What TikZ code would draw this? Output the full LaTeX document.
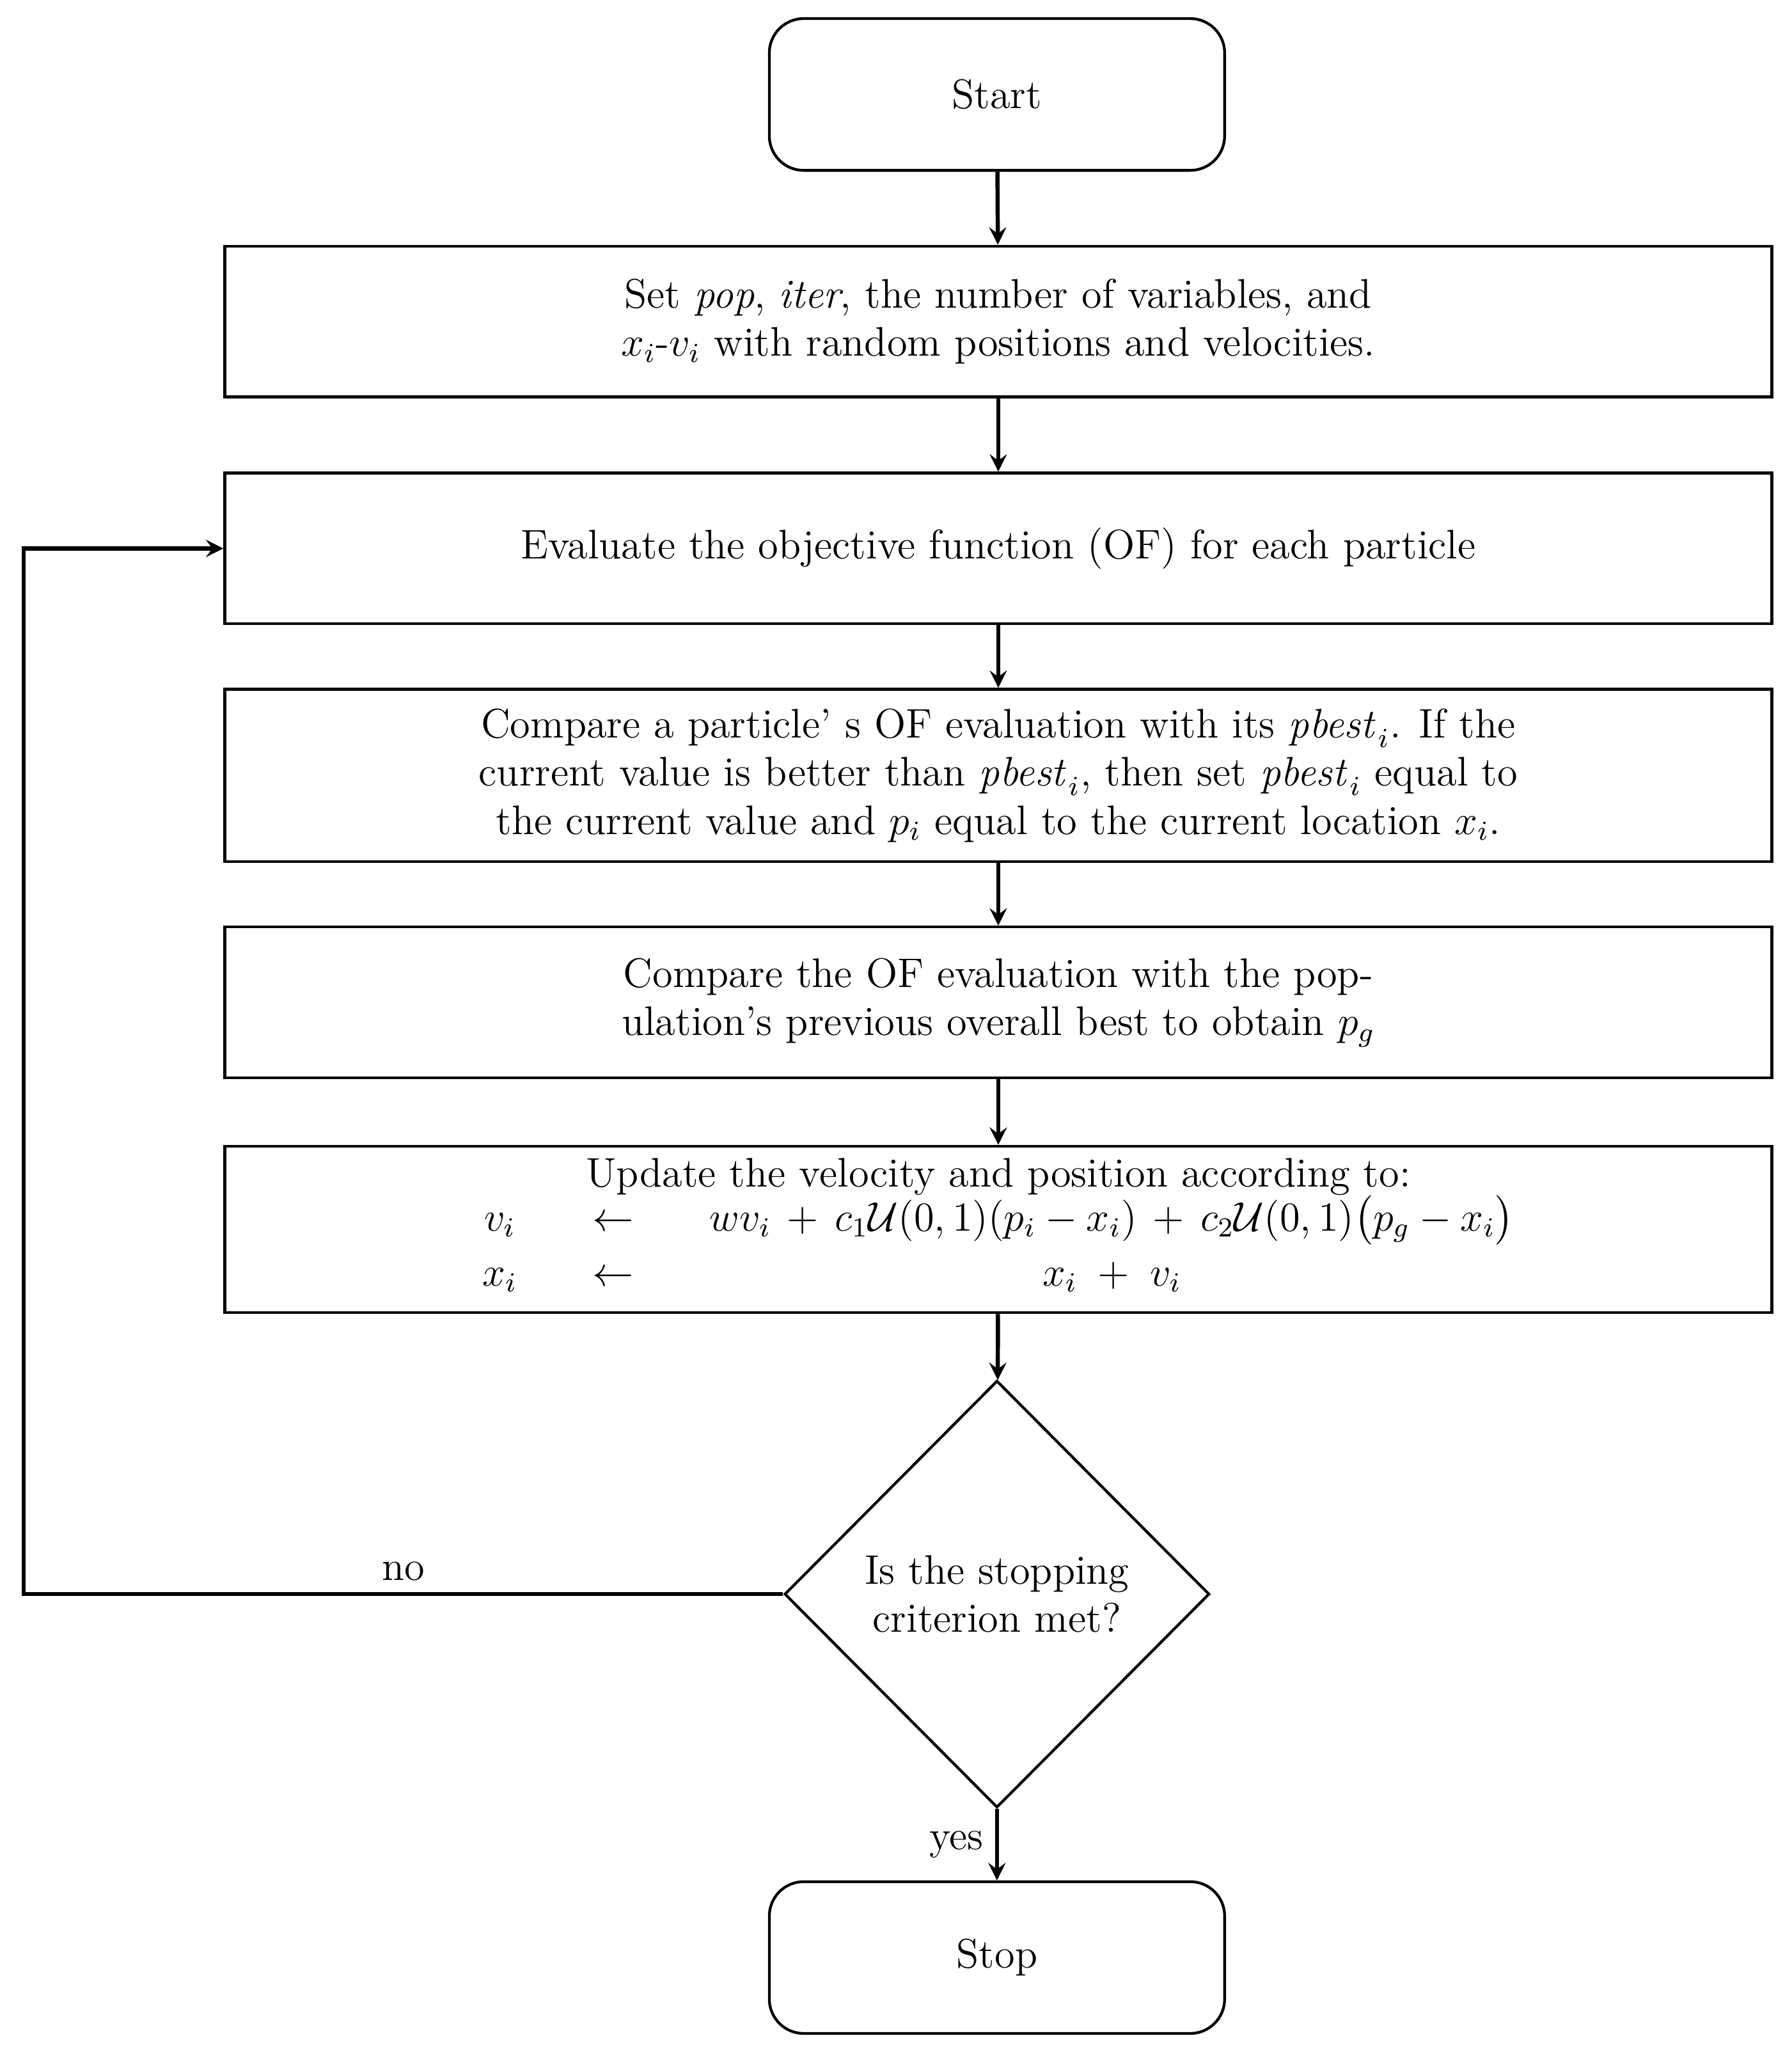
\documentclass[tikz,border=0pt]{standalone}
\usepackage{amsmath}
\usepackage{amssymb}
\usetikzlibrary{shapes.geometric}

\begin{document}
\begin{tikzpicture}[x=0.0134cm, y=-0.0134cm, font=\large,
        term/.style = {draw, thick, rounded corners=10pt, minimum width=4.65cm, minimum height=1.55cm},
        proc/.style = {draw, thick, minimum width=15.8cm, minimum height=1.54cm, align=center},
        test/.style = {draw, thick, diamond, inner sep=0pt, minimum width=4.34cm, minimum height=4.36cm, align=center},
        ar/.style = {very thick, -stealth}]
        \useasboundingbox (0,0) rectangle (1366,1564);

        \node[term] (start) at (760, 72) {Start};
        \node[proc] (init) at (761, 245) {Set \textit{pop}, \textit{iter}, the number of variables, and\\ $x_i$-$v_i$ with random positions and velocities.};
        \node[proc] (eval) at (761, 418) {Evaluate the objective function (OF) for each particle};
        \node[proc, minimum height=1.76cm] (pbest) at (761, 591) {Compare a particle' s OF evaluation with its $\mathit{pbest}_i$. If the\\ current value is better than $\mathit{pbest}_i$, then set $\mathit{pbest}_i$ equal to\\ the current value and $p_i$ equal to the current location $x_i$.};
        \node[proc] (gbest) at (761, 764) {Compare the OF evaluation with the pop-\\ ulation's previous overall best to obtain $p_g$};
        \node[proc, minimum height=1.7cm, inner sep=1pt] (update) at (761, 937) {Update the velocity and position according to:\\[-1pt]
            $\begin{array}{ccc}
            v_i & \quad\leftarrow\quad & wv_i \,+\, c_1\mathcal{U}(0,1)(p_i - x_i) \,+\, c_2\mathcal{U}(0,1)\big(p_g - x_i\big)\\[2pt]
            x_i & \quad\leftarrow\quad & x_i \;+\; v_i
            \end{array}$};
        \node[test] (check) at (760, 1215) {Is the stopping\\ criterion met?};
        \node[term] (stop) at (760, 1492) {Stop};
        \coordinate (bend1) at (18, 1215);
        \coordinate (bend2) at (18, 418);

        \draw[ar] (start) -- (init);
        \draw[ar] (init) -- (eval);
        \draw[ar] (eval) -- (pbest);
        \draw[ar] (pbest) -- (gbest);
        \draw[ar] (gbest) -- (update);
        \draw[ar] (update) -- (check);
        \draw[ar] (check) -- node[left] {yes} (stop);
        \draw[ar] (check) -- node[above, pos=0.5] {no} (bend1) -- (bend2) -- (eval);
\end{tikzpicture}
\end{document}
